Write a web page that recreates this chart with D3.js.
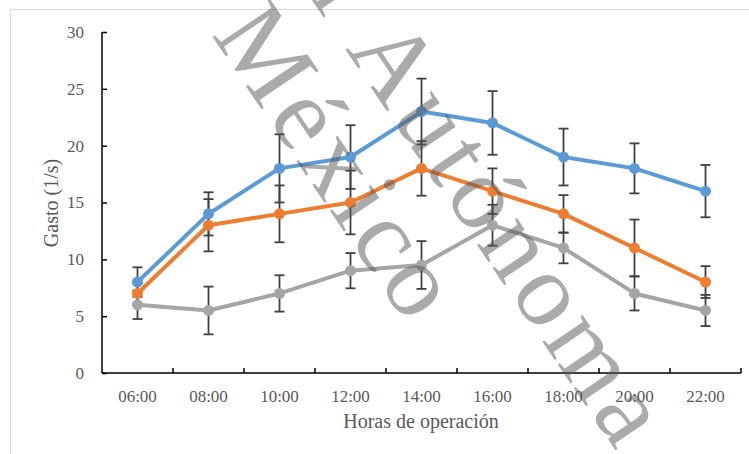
<!DOCTYPE html>
<html>
<head>
<meta charset="utf-8">
<script src="https://cdn.jsdelivr.net/npm/d3@7"></script>
<style>
  body { margin: 0; background: #fff; }
  svg { display: block; }
</style>
</head>
<body>
<svg id="chart"></svg>
<script>
// data
const hours = ["06:00", "08:00", "10:00", "12:00", "14:00", "16:00", "18:00", "20:00", "22:00"]
const yTicks = [0, 5, 10, 15, 20, 25, 30]

const blueVals = [8, 14, 18, 19, 23, 22, 19, 18, 16]
const blueErr = [1.3, 1.9, 3.0, 2.8, 2.9, 2.8, 2.5, 2.2, 2.3]
const orangeVals = [7, 13, 14, 15, 18, 16, 14, 11, 8]
const orangeErr = [0.9, 2.3, 2.5, 2.8, 2.4, 2.0, 1.65, 2.5, 1.4]
const grayVals = [6, 5.5, 7, 9, 9.5, 13, 11, 7, 5.5]
const grayErr = [1.25, 2.1, 1.6, 1.55, 2.1, 1.8, 1.35, 1.5, 1.37]

const series = [
    { name: "blue", color: "#5B9BD5", vals: blueVals, err: blueErr },
    { name: "orange", color: "#ED7D31", vals: orangeVals, err: orangeErr },
    { name: "gray", color: "#A5A5A5", vals: grayVals, err: grayErr }
]

const width = 749, height = 454
const margin = { top: 32, right: 8, bottom: 81, left: 102 }
const font = "'Liberation Serif', 'Times New Roman', serif"
const textColor = "#595959"

const svg = d3.select("#chart").attr("width", width).attr("height", height)

// outer chart border (partly cropped in the reference)
svg.append("rect")
    .attr("x", 10.5).attr("y", 9.5)
    .attr("width", width + 20).attr("height", height + 20)
    .attr("fill", "none").attr("stroke", "#d9d9d9")

const x = d3.scaleBand().domain(hours).range([margin.left, width - margin.right])
const y = d3.scaleLinear().domain([0, 30]).range([height - margin.bottom, margin.top])
const cx = h => x(h) + x.bandwidth() / 2

// y axis, ticks pointing inward
const yAxis = svg.append("g")
    .attr("transform", "translate(" + margin.left + ",0)")
    .call(d3.axisRight(y).tickValues(yTicks).tickSize(5).tickFormat(""))
yAxis.select(".domain").attr("stroke", "#000").attr("stroke-width", 1.5).attr("d", "M0," + y(30) + "V" + y(0))
yAxis.selectAll(".tick line").attr("stroke", "#000").attr("stroke-width", 1.5)

svg.append("g").selectAll("text")
    .data(yTicks)
    .enter().append("text")
    .attr("x", 84)
    .attr("y", d => y(d))
    .attr("dy", "0.35em")
    .attr("text-anchor", "end")
    .style("font-family", font).style("font-size", "17px").attr("fill", textColor)
    .text(d => d)

// x axis: ticks at band edges, pointing up
const edges = hours.map(h => x(h)).concat([x.range()[1]])
const xg = svg.append("g")
xg.append("line")
    .attr("x1", margin.left).attr("x2", x.range()[1])
    .attr("y1", y(0)).attr("y2", y(0))
    .attr("stroke", "#000").attr("stroke-width", 1.5)
xg.selectAll(".xt")
    .data(edges.slice(1))
    .enter().append("line")
    .attr("x1", d => d).attr("x2", d => d)
    .attr("y1", y(0)).attr("y2", y(0) - 5)
    .attr("stroke", "#000").attr("stroke-width", 1.5)
xg.selectAll("text")
    .data(hours)
    .enter().append("text")
    .attr("x", d => cx(d))
    .attr("y", 402)
    .attr("text-anchor", "middle")
    .style("font-family", font).style("font-size", "17px").attr("fill", textColor)
    .text(d => d)

// axis titles
svg.append("text")
    .attr("transform", "translate(58,203) rotate(-90)")
    .attr("text-anchor", "middle")
    .style("font-family", font).style("font-size", "20px").attr("fill", textColor)
    .text("Gasto (1/s)")

svg.append("text")
    .attr("x", 421).attr("y", 428)
    .attr("text-anchor", "middle")
    .style("font-family", font).style("font-size", "20px").attr("fill", textColor)
    .text("Horas de operación")

// error bars underneath everything
const eb = svg.append("g")
series.forEach(s => {
    const g = eb.append("g")
    const rows = hours.map((h, i) => ({ h: h, v: s.vals[i], e: s.err[i] }))
    g.selectAll(".stem").data(rows).enter().append("line")
        .attr("x1", d => cx(d.h)).attr("x2", d => cx(d.h))
        .attr("y1", d => y(d.v + d.e)).attr("y2", d => y(d.v - d.e))
        .attr("stroke", "#404040").attr("stroke-width", 1.8)
    ;["hi", "lo"].forEach(k => {
        g.selectAll(".cap" + k).data(rows).enter().append("line")
            .attr("x1", d => cx(d.h) - 5).attr("x2", d => cx(d.h) + 5)
            .attr("y1", d => y(k == "hi" ? d.v + d.e : d.v - d.e))
            .attr("y2", d => y(k == "hi" ? d.v + d.e : d.v - d.e))
            .attr("stroke", "#404040").attr("stroke-width", 1.8)
    })
})

// lines and markers
const line = d3.line().x((d, i) => cx(hours[i])).y(d => y(d))
series.forEach(s => {
    svg.append("path")
        .datum(s.vals)
        .attr("d", line)
        .attr("fill", "none")
        .attr("stroke", s.color)
        .attr("stroke-width", 4)
        .attr("stroke-linejoin", "round")
    svg.append("g").selectAll("circle")
        .data(s.vals)
        .enter().append("circle")
        .attr("cx", (d, i) => cx(hours[i]))
        .attr("cy", d => y(d))
        .attr("r", 5.5)
        .attr("fill", s.color)
})

// watermark on top
const wm = svg.append("g")
    .attr("transform", "translate(345,49) rotate(56)")
    .style("font-family", font).style("font-size", "105px")
    .style("letter-spacing", "6px")
    .attr("fill", "#555").attr("fill-opacity", 0.5)
wm.append("text").attr("x", -30).attr("y", 0).attr("text-anchor", "end").text("Universidad Nacional")
wm.append("text").attr("x", 0).attr("y", 0).text("Autónoma")
wm.append("text").attr("x", -117).attr("y", 103).attr("text-anchor", "end").text("de")
wm.append("text").attr("x", -87).attr("y", 103).text("México")
</script>
</body>
</html>
